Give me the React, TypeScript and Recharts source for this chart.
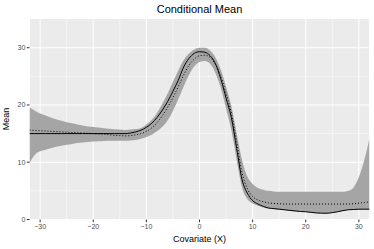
import React from "react";
import {
  ComposedChart,
  Area,
  Line,
  XAxis,
  YAxis,
  CartesianGrid,
} from "recharts";

// covariate grid
const xValues = [
  -32, -31, -30, -29, -28, -27, -26, -25, -24, -23, -22, -21, -20, -19, -18, -17,
  -16, -15, -14, -13, -12, -11, -10, -9, -8, -7, -6, -5, -4, -3, -2, -1, 0, 1, 2,
  3, 4, 5, 6, 7, 8, 9, 10, 11, 12, 13, 14, 15, 16, 17, 18, 19, 20, 21, 22, 23,
  24, 25, 26, 27, 28, 29, 30, 31, 32,
];

// estimated conditional mean (solid)
const estimate = [
  15.0, 15.0, 15.0, 15.0, 15.0, 15.0, 15.0, 15.0, 15.0, 15.0, 15.0, 15.0, 15.0,
  15.0, 15.0, 15.0, 15.0, 15.0, 15.0, 15.1, 15.3, 15.6, 16.1, 16.8, 17.8, 19.1,
  20.6, 22.4, 24.3, 26.6, 28.1, 29.0, 29.3, 29.2, 28.6, 27.2, 24.6, 21.2, 17.8,
  12.4, 7.0, 4.6, 3.3, 2.7, 2.3, 2.0, 1.9, 1.8, 1.7, 1.6, 1.5, 1.4, 1.35, 1.25,
  1.15, 1.1, 1.1, 1.2, 1.35, 1.55, 1.7, 1.75, 1.8, 1.8, 1.8,
];

// true mean (dotted)
const truth = [
  15.6, 15.55, 15.5, 15.45, 15.4, 15.35, 15.3, 15.25, 15.2, 15.15, 15.1, 15.05,
  15.0, 14.95, 14.9, 14.8, 14.7, 14.65, 14.6, 14.65, 14.8, 15.0, 15.4, 16.0, 16.9,
  18.1, 19.6, 21.3, 23.2, 25.2, 26.9, 28.0, 28.6, 28.7, 28.3, 27.1, 25.0, 22.0,
  18.6, 13.6, 8.2, 5.4, 4.0, 3.4, 3.1, 2.9, 2.8, 2.75, 2.7, 2.7, 2.7, 2.7, 2.7,
  2.7, 2.7, 2.7, 2.7, 2.7, 2.7, 2.7, 2.7, 2.75, 2.85, 2.95, 3.1,
];

// confidence band
const lower = [
  9.8, 11.3, 11.9, 12.2, 12.45, 12.7, 12.9, 13.05, 13.2, 13.35, 13.45, 13.55,
  13.6, 13.65, 13.7, 13.75, 13.75, 13.75, 13.75, 13.8, 13.9, 14.1, 14.4, 14.8,
  15.4, 16.2, 17.3, 19.0, 21.0, 23.2, 25.2, 26.7, 27.5, 27.7, 27.2, 25.6, 23.0,
  19.4, 15.6, 10.4, 5.6, 3.6, 2.8, 2.4, 2.1, 1.9, 1.8, 1.7, 1.6, 1.5, 1.4, 1.35,
  1.3, 1.2, 1.1, 1.05, 1.05, 1.15, 1.3, 1.5, 1.65, 1.7, 1.75, 1.8, 1.8,
];
const upper = [
  19.6, 19.0, 18.5, 18.15, 17.8, 17.5, 17.25, 17.0, 16.8, 16.6, 16.4, 16.25,
  16.15, 16.05, 15.95, 15.85, 15.75, 15.7, 15.65, 15.7, 15.8, 16.0, 16.6, 17.4,
  18.6, 20.2, 22.0, 24.0, 26.0, 27.8, 29.0, 29.7, 30.0, 30.0, 29.5, 28.3, 26.2,
  23.2, 19.8, 15.0, 10.4, 7.5, 6.2, 5.5, 5.2, 5.0, 4.9, 4.85, 4.85, 4.85, 4.85,
  4.85, 4.85, 4.85, 4.85, 4.85, 4.85, 4.85, 4.85, 4.85, 5.0, 5.6, 7.4, 10.3,
  14.2,
];

const xTicks = [-30, -20, -10, 0, 10, 20, 30];
const xMinorTicks = [-25, -15, -5, 5, 15, 25];
const yTicks = [0, 10, 20, 30];
const yMinorTicks = [5, 15, 25];

const data = xValues.map((x, i) => ({
  x,
  estimate: estimate[i],
  truth: truth[i],
  band: [lower[i], upper[i]],
}));

const FONT = "'Liberation Sans', Arial, Helvetica, sans-serif";
const minus = (v: number) => String(v).replace("-", "\u2212");
const tickStyle = { fontSize: 7, fill: "#4d4d4d", fontFamily: FONT };

export default function App() {
  return (
    <div
      style={{
        position: "absolute",
        left: 0,
        top: 0,
        width: 374,
        height: 249,
        background: "#fff",
        fontFamily: FONT,
      }}
    >
      <ComposedChart
        width={374}
        height={249}
        data={data}
        margin={{ top: 18.5, right: 4.5, bottom: 0, left: 0 }}
      >
        <XAxis
          xAxisId="minor"
          dataKey="x"
          type="number"
          domain={[-32, 32]}
          ticks={xMinorTicks}
          hide
        />
        <YAxis
          yAxisId="minor"
          type="number"
          domain={[0, 35.1]}
          ticks={yMinorTicks}
          allowDataOverflow
          hide
        />
        <CartesianGrid
          xAxisId="minor"
          yAxisId="minor"
          stroke="#ffffff"
          strokeWidth={0.5}
          fill="#ebebeb"
          fillOpacity={1}
        />
        <CartesianGrid stroke="#ffffff" strokeWidth={1} />
        <XAxis
          dataKey="x"
          type="number"
          domain={[-32, 32]}
          ticks={xTicks}
          height={29.5}
          tickSize={2.7}
          tickMargin={1.5}
          tick={tickStyle}
          tickLine={{ stroke: "#333333" }}
          axisLine={false}
          tickFormatter={minus}
          allowDataOverflow
        />
        <YAxis
          type="number"
          domain={[0, 35.1]}
          ticks={yTicks}
          width={29.5}
          tickSize={2.7}
          tickMargin={1.5}
          tick={tickStyle}
          tickLine={{ stroke: "#333333" }}
          axisLine={false}
          allowDataOverflow
        />
        <Area
          dataKey="band"
          type="monotone"
          fill="#a5a5a5"
          fillOpacity={1}
          stroke="none"
          isAnimationActive={false}
        />
        <Line
          dataKey="estimate"
          type="monotone"
          stroke="#000000"
          strokeWidth={1}
          dot={false}
          isAnimationActive={false}
        />
        <Line
          dataKey="truth"
          type="monotone"
          stroke="#000000"
          strokeWidth={1}
          strokeDasharray="1 2"
          dot={false}
          isAnimationActive={false}
        />
      </ComposedChart>

      {/* titles */}
      <div
        style={{
          position: "absolute",
          left: 29.5,
          width: 340,
          top: 4,
          textAlign: "center",
          fontSize: 11,
          lineHeight: "11px",
          color: "#000",
        }}
      >
        Conditional Mean
      </div>
      <div
        style={{
          position: "absolute",
          left: 29.5,
          width: 340,
          top: 234.7,
          textAlign: "center",
          fontSize: 9,
          lineHeight: "9px",
          color: "#000",
        }}
      >
        Covariate (X)
      </div>
      <div
        style={{
          position: "absolute",
          left: 6,
          top: 119,
          width: 0,
          height: 0,
        }}
      >
        <div
          style={{
            position: "absolute",
            transform: "translate(-50%, -50%) rotate(-90deg)",
            fontSize: 9,
            lineHeight: "9px",
            whiteSpace: "nowrap",
            color: "#000",
          }}
        >
          Mean
        </div>
      </div>
    </div>
  );
}
